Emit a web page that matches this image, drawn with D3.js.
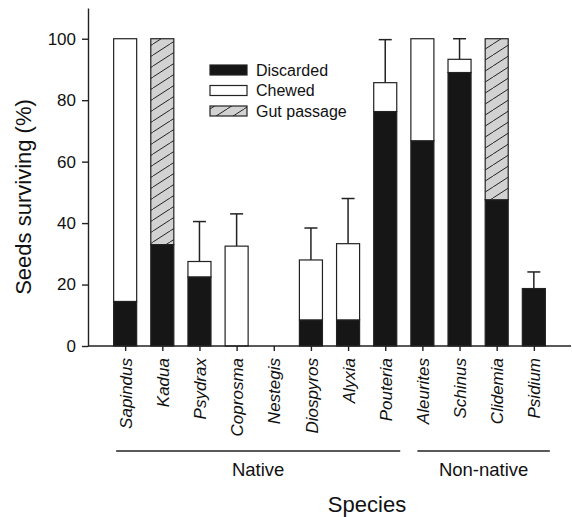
<!DOCTYPE html>
<meta charset="utf-8">
<html>
<head>
<title>seed survival</title>
<style>
    body { margin: 0; background: #fff; }
    svg text { font-family: "Liberation Sans", Arial, sans-serif; fill: #111; }
    .axis path, .axis line { stroke: #222; stroke-width: 1.4; }
</style>
<script src="https://d3js.org/d3.v7.min.js"></script>
</head>
<body>
<div id="chart"></div>
<script>

// data (% of seeds surviving)
var species = ["Sapindus", "Kadua", "Psydrax", "Coprosma", "Nestegis", "Diospyros",
               "Alyxia", "Pouteria", "Aleurites", "Schinus", "Clidemia", "Psidium"];
var discarded  = [14.5, 33, 22.5, 0, 0, 8.5, 8.5, 76.3, 66.8, 89, 47.6, 18.7];
var chewed     = [85.5, 0, 5, 32.5, 0, 19.5, 24.8, 9.4, 33.2, 4.3, 0, 0];
var gutPassage = [0, 67, 0, 0, 0, 0, 0, 0, 0, 0, 52.4, 0];
var errorUp    = [0, 0, 13, 10.5, 0, 10.4, 14.7, 14, 0, 6.7, 0, 5.4];
var yTicks = [0, 20, 40, 60, 80, 100];
var groups = [
  {name: "Native", from: "Sapindus", to: "Pouteria"},
  {name: "Non-native", from: "Aleurites", to: "Psidium"}
];
var seriesNames = ["Discarded", "Chewed", "Gut passage"];

// plot area
var width = 572, height = 517;
var m = {left: 88, right: 571, top: 8, bottom: 346};

var svg = d3.select("#chart").append("svg")
    .attr("width", width)
    .attr("height", height);

// hatch pattern for gut passage
var pat = svg.append("defs").append("pattern")
    .attr("id", "hatch")
    .attr("patternUnits", "userSpaceOnUse")
    .attr("width", 17).attr("height", 11);
pat.append("rect").attr("width", 17).attr("height", 11).attr("fill", "#d2d2d2");
pat.append("path")
    .attr("d", "M0,11 L17,0 M-17,11 L0,0 M17,11 L34,0")
    .attr("stroke", "#222").attr("stroke-width", 1);

var x = d3.scalePoint().domain(species).range([m.left, m.right]).padding(1);
var y = d3.scaleLinear().domain([0, 110]).range([m.bottom, m.top]);
var bw = x.step() * 0.62;

var rows = species.map(function(s, i) {
  return {species: s, Discarded: discarded[i], Chewed: chewed[i], "Gut passage": gutPassage[i], err: errorUp[i]};
});
var stacked = d3.stack().keys(seriesNames)(rows);
var fills = {"Discarded": "#161616", "Chewed": "#fff", "Gut passage": "url(#hatch)"};

// error bars (drawn first so bars sit on top)
var eb = svg.append("g").attr("stroke", "#222").attr("stroke-width", 1.5);
rows.forEach(function(d) {
  if (!d.err) return;
  var tot = d.Discarded + d.Chewed + d["Gut passage"];
  var cx = x(d.species);
  eb.append("line").attr("x1", cx).attr("x2", cx).attr("y1", y(tot)).attr("y2", y(tot + d.err));
  eb.append("line").attr("x1", cx - 6.5).attr("x2", cx + 6.5).attr("y1", y(tot + d.err)).attr("y2", y(tot + d.err));
});

// stacked bars
svg.append("g").selectAll("g")
  .data(stacked)
  .enter().append("g")
    .attr("fill", function(d) { return fills[d.key]; })
  .selectAll("rect")
  .data(function(d) { return d.filter(function(p) { return p[1] - p[0] > 0; }); })
  .enter().append("rect")
    .attr("x", function(d) { return x(d.data.species) - bw / 2; })
    .attr("y", function(d) { return y(d[1]); })
    .attr("width", bw)
    .attr("height", function(d) { return y(d[0]) - y(d[1]); })
    .attr("stroke", "#222")
    .attr("stroke-width", 1.2);

// axes
var yAxis = svg.append("g")
    .attr("class", "axis")
    .attr("transform", "translate(" + m.left + ",0)")
    .call(d3.axisLeft(y).tickValues(yTicks).tickSize(6).tickSizeOuter(0).tickPadding(6));
yAxis.selectAll("text").style("font-size", "17px");

var xAxis = svg.append("g")
    .attr("class", "axis")
    .attr("transform", "translate(0," + m.bottom + ")")
    .call(d3.axisBottom(x).tickSize(5).tickSizeOuter(0));
xAxis.select(".domain").attr("d", "M" + m.left + ",0H" + m.right);
xAxis.selectAll("text")
    .style("font-size", "17px")
    .style("font-style", "italic")
    .attr("text-anchor", "end")
    .attr("transform", "rotate(-90)")
    .attr("x", -12)
    .attr("y", 0)
    .attr("dy", "0.36em");

// group brackets
var grp = svg.append("g");
groups.forEach(function(g) {
  var x0 = x(g.from) - 9, x1 = x(g.to) + 15;
  if (g.name === "Non-native") { x0 = x(g.from) - 5; x1 = x(g.to) + 16; }
  grp.append("line").attr("x1", x0).attr("x2", x1).attr("y1", 451).attr("y2", 451)
     .attr("stroke", "#222").attr("stroke-width", 1.4);
  grp.append("text").attr("x", (x0 + x1) / 2).attr("y", 476)
     .attr("text-anchor", "middle").style("font-size", "18.5px").text(g.name);
});

// axis titles
svg.append("text")
    .attr("x", 367).attr("y", 512)
    .attr("text-anchor", "middle")
    .style("font-size", "22px")
    .text("Species");

svg.append("text")
    .attr("transform", "translate(31,197) rotate(-90)")
    .attr("text-anchor", "middle")
    .style("font-size", "22px")
    .text("Seeds surviving (%)");

// legend
var leg = svg.append("g").attr("transform", "translate(210,65)");
seriesNames.forEach(function(k, i) {
  leg.append("rect").attr("x", 0).attr("y", i * 20.5).attr("width", 37).attr("height", 10)
     .attr("fill", fills[k]).attr("stroke", "#222").attr("stroke-width", 1.2);
  leg.append("text").attr("x", 46).attr("y", i * 20.5 + 10.5)
     .style("font-size", "16px").text(k);
});

</script>
</body>
</html>
